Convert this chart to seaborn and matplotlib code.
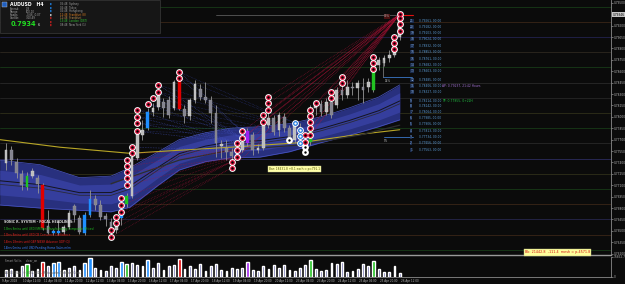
import numpy as np
import pandas as pd
import matplotlib
matplotlib.use("Agg")
import matplotlib.pyplot as plt
from matplotlib.patches import Rectangle
import seaborn as sns

sns.set_theme(style="dark")
plt.rcParams['font.family'] = ['DejaVu Sans']

# ---------------- data ----------------
opens = [0.7739, 0.7756, 0.7741, 0.7725, 0.7708, 0.7722, 0.7720, 0.7710, 0.7656, 0.7647,
         0.7650, 0.7648, 0.7655, 0.7683, 0.7667, 0.7647, 0.7671, 0.7692, 0.7684, 0.7670,
         0.7662, 0.7651, 0.7667, 0.7685, 0.7696, 0.7746, 0.7776, 0.7785, 0.7806, 0.7813,
         0.7819, 0.7822, 0.7812, 0.7848, 0.7810, 0.7801, 0.7822, 0.7837, 0.7826, 0.7822,
         0.7805, 0.7762, 0.7759, 0.7754, 0.7748, 0.7756, 0.7766, 0.7776, 0.7756, 0.7759,
         0.7789, 0.7798, 0.7783, 0.7800, 0.7785, 0.7770, 0.7787, 0.7770, 0.7767, 0.7812,
         0.7817, 0.7806, 0.7819, 0.7816, 0.7835, 0.7829, 0.7839, 0.7838, 0.7839, 0.7839,
         0.7835, 0.7868, 0.7871, 0.7877, 0.7881, 0.7905]
closes = [0.7756, 0.7743, 0.7726, 0.7710, 0.7722, 0.7729, 0.7712, 0.7654, 0.7647, 0.7650,
          0.7647, 0.7655, 0.7673, 0.7671, 0.7648, 0.7671, 0.7692, 0.7684, 0.7668, 0.7666,
          0.7648, 0.7662, 0.7671, 0.7696, 0.7747, 0.7779, 0.7783, 0.7806, 0.7812, 0.7831,
          0.7812, 0.7802, 0.7846, 0.7810, 0.7801, 0.7822, 0.7843, 0.7826, 0.7822, 0.7805,
          0.7766, 0.7764, 0.7754, 0.7748, 0.7756, 0.7767, 0.7781, 0.7756, 0.7759, 0.7789,
          0.7798, 0.7780, 0.7802, 0.7785, 0.7770, 0.7789, 0.7770, 0.7762, 0.7812, 0.7817,
          0.7806, 0.7819, 0.7802, 0.7835, 0.7829, 0.7839, 0.7838, 0.7845, 0.7835, 0.7846,
          0.7868, 0.7875, 0.7877, 0.7881, 0.7905, 0.7930]
highs = [0.7766, 0.7762, 0.7746, 0.7730, 0.7727, 0.7733, 0.7723, 0.7713, 0.7677, 0.7652,
         0.7664, 0.7658, 0.7677, 0.7685, 0.7671, 0.7675, 0.7704, 0.7697, 0.7691, 0.7673,
         0.7667, 0.7671, 0.7675, 0.7700, 0.7756, 0.7785, 0.7796, 0.7812, 0.7818, 0.7835,
         0.7825, 0.7827, 0.7848, 0.7859, 0.7816, 0.7825, 0.7848, 0.7843, 0.7846, 0.7827,
         0.7816, 0.7770, 0.7770, 0.7759, 0.7763, 0.7772, 0.7785, 0.7780, 0.7764, 0.7796,
         0.7806, 0.7802, 0.7806, 0.7805, 0.7789, 0.7793, 0.7792, 0.7776, 0.7816, 0.7822,
         0.7822, 0.7825, 0.7825, 0.7839, 0.7843, 0.7848, 0.7846, 0.7848, 0.7851, 0.7851,
         0.7872, 0.7879, 0.7881, 0.7888, 0.7908, 0.7934]
lows = [0.7730, 0.7737, 0.7720, 0.7704, 0.7704, 0.7720, 0.7700, 0.7651, 0.7646, 0.7645,
        0.7645, 0.7646, 0.7652, 0.7662, 0.7646, 0.7645, 0.7668, 0.7677, 0.7664, 0.7656,
        0.7643, 0.7647, 0.7658, 0.7681, 0.7693, 0.7743, 0.7770, 0.7783, 0.7801, 0.7809,
        0.7800, 0.7798, 0.7809, 0.7809, 0.7792, 0.7796, 0.7818, 0.7822, 0.7818, 0.7792,
        0.7747, 0.7746, 0.7743, 0.7743, 0.7746, 0.7754, 0.7762, 0.7750, 0.7752, 0.7756,
        0.7785, 0.7776, 0.7775, 0.7780, 0.7766, 0.7766, 0.7763, 0.7756, 0.7763, 0.7802,
        0.7801, 0.7802, 0.7798, 0.7812, 0.7822, 0.7825, 0.7829, 0.7822, 0.7818, 0.7833,
        0.7833, 0.7862, 0.7867, 0.7872, 0.7879, 0.7901]
volumes = [6000, 7000, 5000, 9000, 11000, 5000, 7000, 13000, 9000, 12000,
           13000, 6000, 8000, 9000, 6000, 12000, 16000, 8000, 6000, 5000,
           9000, 8000, 13000, 11000, 12000, 10000, 9000, 14000, 8000, 12000,
           6000, 9000, 10000, 15000, 7000, 9000, 7000, 11000, 5000, 9000,
           11000, 6000, 5000, 8000, 7000, 8000, 13000, 6000, 5000, 9000,
           7000, 10000, 8000, 10000, 6000, 5000, 8000, 10000, 14500, 7000,
           5000, 6000, 12000, 11000, 13000, 4000, 5000, 7000, 11000, 9000,
           13600, 7000, 4000, 4000, 9000, 3000]
signal_bars = [4, 7, 9, 10, 15, 16, 22, 23, 27, 33, 46, 58, 70]
signal_types = ['green', 'red', 'blue', 'blue', 'blue', 'blue', 'blue', 'green',
                'blue', 'red', 'purple', 'green', 'green']

date_tick_bars = [0, 4, 8, 12, 16, 20, 24, 28, 32, 36, 40, 44, 48, 52, 56, 60, 64, 68, 72, 76]
date_tick_labels = ["9 Apr 2018", "10 Apr 12:00", "11 Apr 04:00", "11 Apr 20:00",
                    "12 Apr 12:00", "13 Apr 04:00", "13 Apr 20:00", "16 Apr 12:00",
                    "17 Apr 04:00", "17 Apr 20:00", "18 Apr 12:00", "19 Apr 04:00",
                    "19 Apr 20:00", "20 Apr 12:00", "23 Apr 04:00", "23 Apr 20:00",
                    "24 Apr 12:00", "25 Apr 04:00", "25 Apr 20:00", "26 Apr 12:00"]

price_ticks = [0.7950, 0.7920, 0.7905, 0.7890, 0.7875, 0.7860, 0.7845, 0.7830,
               0.7815, 0.7800, 0.7785, 0.7770, 0.7755, 0.7740, 0.7725, 0.7710,
               0.7695, 0.7680, 0.7665, 0.7650, 0.7635, 0.7620]
current_price = 0.79346
vol_axis_top = 16852.7

level_prices = [0.7945, 0.7925, 0.7905, 0.7885, 0.7865, 0.7845, 0.7825, 0.7805, 0.7785,
                0.7765, 0.7745, 0.7725, 0.7705, 0.7685, 0.7665, 0.7645, 0.7625]

band_bars = [-1.2, 6.5, 14, 20, 23.6, 29, 33, 38, 42.7, 48.4, 54, 60, 65.5, 71, 75]
band_upper = [0.7743, 0.7737, 0.7720, 0.7722, 0.7733, 0.7754, 0.7770, 0.7779, 0.7785,
              0.7787, 0.7791, 0.7800, 0.7812, 0.7826, 0.7842]
band_lower = [0.7684, 0.7680, 0.7677, 0.7675, 0.7681, 0.7710, 0.7730, 0.7741, 0.7746,
              0.7747, 0.7754, 0.7766, 0.7776, 0.7787, 0.7796]
ma_bars = [-1.2, 10.3, 23.6, 33, 42.7, 56, 67.4, 75]
ma_yellow = [0.7770, 0.7760, 0.7752, 0.7756, 0.7760, 0.7766, 0.7777, 0.7783]
ma2_bars = [20, 33, 42.7, 56, 67.4, 75]
ma2_values = [0.7712, 0.7743, 0.7756, 0.7763, 0.7776, 0.7789]

circle_bars = [20, 20, 21, 21, 22, 22, 22, 23, 23, 23, 23, 23, 24, 24, 25, 25, 25, 25,
               27, 28, 29, 29, 33, 33, 43, 43, 44, 44, 44, 45, 45, 49, 49, 50, 50, 50,
               54, 55, 56, 56, 56, 57, 57, 57, 57, 58, 58, 58, 58, 58, 59, 62, 62, 64,
               64, 70, 70, 70, 74, 74, 74, 75, 75, 75, 75]
circle_prices = [0.7642, 0.7651, 0.7660, 0.7668, 0.7675, 0.7684, 0.7693, 0.7710, 0.7720,
                 0.7727, 0.7735, 0.7743, 0.7752, 0.7760, 0.7781, 0.7792, 0.7800, 0.7809,
                 0.7817, 0.7825, 0.7833, 0.7842, 0.7851, 0.7859, 0.7733, 0.7741, 0.7747,
                 0.7756, 0.7766, 0.7772, 0.7781, 0.7793, 0.7802, 0.7809, 0.7818, 0.7826,
                 0.7770, 0.7792, 0.7783, 0.7775, 0.7766, 0.7776, 0.7767, 0.7760, 0.7754,
                 0.7809, 0.7801, 0.7793, 0.7785, 0.7776, 0.7818, 0.7833, 0.7825, 0.7852,
                 0.7845, 0.7879, 0.7871, 0.7863, 0.7905, 0.7897, 0.7889, 0.7935, 0.7930,
                 0.7922, 0.7913]
circle_kinds = (['red'] * 36 + ['white', 'blue', 'blue', 'blue', 'blue', 'red', 'red',
                                'white', 'white'] + ['red'] * 20)

fib_ids = list(range(21, 0, -1))
fib_prices = [0.79261, 0.79182, 0.79103, 0.79024, 0.78932, 0.78853, 0.78761, 0.78682,
              0.78603, 0.78485, 0.78406, 0.78327, 0.78214, 0.78142, 0.78064, 0.77985,
              0.77906, 0.77813, 0.77734, 0.77656, 0.77563]

headlines = ["SONIC R. SYSTEM - FOCAL HEADLINES:",
             "13hrs 8mins until USD ISM/Non-Manufacturing Composite (Prices)",
             "13hrs 8mins until USD CB Consumer Confidence",
             "14hrs 18mins until GBP NIESR Advance GDP (Q)",
             "14hrs 0mins until USD Pending Home Sales m/m"]
session_labels = ["05:48  Sydney", "06:48  Tokyo", "06:48  Hongkong", "12:48  Frankfurt (8)",
                  "12:48  Frankfurt", "13:48  London (DST)", "08:48  New York (1)"]
info_names = ["Spread:", "Range:", "Swaps:", "Candle:"]
info_values = ["0.8", "100.10", "-0.66 -0.07", "3:10:49"]

# ---------------- styling ----------------
BG = '#0b0b0b'
W, H = 625, 284
sig_col = {'green': '#22c322', 'red': '#e00000', 'blue': '#1e8fff', 'purple': '#a020f0'}
level_colors = ['#183a18', '#3a2618', '#22224e', '#2e2820', '#183a18', '#2a2a2a', '#262626',
                '#30301a', '#183a18', '#282828', '#2c2c5e', '#30301a', '#183a18', '#3a2618',
                '#26264c', '#3a2618', '#183a18']

def frect(x0, y0, x1, y1):
    return [x0 / W, 1 - y1 / H, (x1 - x0) / W, (y1 - y0) / H]

fig = plt.figure(figsize=(6.25, 2.84), dpi=100, facecolor=BG)
ax = fig.add_axes(frect(0, 0, 611, 255))
axv = fig.add_axes(frect(0, 257, 611, 277))
for a in (ax, axv):
    a.set_facecolor(BG)
    a.grid(False)
    for s in a.spines.values():
        s.set_visible(False)
    a.spines['right'].set_visible(True)
    a.spines['right'].set_color('#8a8a8a')
    a.spines['right'].set_linewidth(0.6)
ax.spines['bottom'].set_visible(True)
ax.spines['bottom'].set_color('#9a9a9a')
ax.spines['bottom'].set_linewidth(1.0)
axv.spines['bottom'].set_visible(True)
axv.spines['bottom'].set_color('#8a8a8a')
axv.spines['bottom'].set_linewidth(0.6)

XMIN, XMAX = -1.143, 115.24
ax.set_xlim(XMIN, XMAX)
axv.set_xlim(XMIN, XMAX)
ax.set_ylim(0.76182, 0.79537)

df = pd.DataFrame(dict(bar=np.arange(len(closes)), open=opens, high=highs, low=lows,
                       close=closes, vol=volumes))
sig_map = dict(zip(signal_bars, signal_types))

# level lines
for p, c in zip(level_prices, level_colors):
    ax.axhline(p, color=c, lw=0.6, zorder=1)

# band
ax.fill_between(band_bars, band_lower, band_upper, color='#28307e', lw=0, zorder=2)
mid = (np.array(band_upper) + np.array(band_lower)) / 2
half = (np.array(band_upper) - np.array(band_lower)) / 2
ax.fill_between(band_bars, mid - half * 0.55, mid + half * 0.55, color='#3a44a8',
                alpha=0.75, lw=0, zorder=2)
ax.plot(band_bars, band_upper, color='#4a56c4', lw=0.5, zorder=2)
ax.plot(band_bars, band_lower, color='#4a56c4', lw=0.5, zorder=2)
ax.plot(band_bars, mid + half * 0.08, color='#14141e', lw=0.7, zorder=2)
ax.plot(band_bars, mid - half * 0.08, color='#2a2a38', lw=0.6, zorder=2)

# moving averages
sns.lineplot(x=ma_bars, y=ma_yellow, ax=ax, color='#b8a626', lw=0.8, sort=False,
             estimator=None, zorder=3)
sns.lineplot(x=ma2_bars, y=ma2_values, ax=ax, color='#2e2e2e', lw=0.9, sort=False,
             estimator=None, zorder=3)

# current price line
ax.plot([40, 75], [current_price - 0.00006] * 2, color='#5a5a5a', lw=0.6, zorder=3)
ax.plot([74.7, 77.5], [current_price - 0.00003] * 2, color='#e01010', lw=0.8, zorder=7)

# fans
circ = pd.DataFrame(dict(bar=circle_bars, price=circle_prices, kind=circle_kinds))
A = circ[circ.bar <= 33].sort_values('price').reset_index(drop=True)
B = circ[(circ.bar >= 43) & (circ.bar <= 45)].sort_values('price').reset_index(drop=True)
B2 = circ[(circ.bar >= 54) & (circ.bar <= 57)].sort_values('price').reset_index(drop=True)
dot = (0, (1, 1.6))
for i, r in A.iterrows():
    j = int(round(i * (len(B) - 1) / (len(A) - 1)))
    t = B.iloc[j]
    col = '#a8123a' if t.price > r.price else '#4656c8'
    ax.plot([r.bar, t.bar], [r.price, t.price], ls=dot, lw=0.45, color=col, alpha=0.8,
            zorder=3)
    if r.bar >= 25:
        k = int(round(i * (len(B2) - 1) / (len(A) - 1)))
        t2 = B2.iloc[k]
        ax.plot([r.bar, t2.bar], [r.price, t2.price], ls=dot, lw=0.4, color='#3c4cc0',
                alpha=0.7, zorder=3)
top = circ.loc[circ.price.idxmax()]
src = circ[(circ.bar >= 43) & (circ.bar <= 64) & (circ.kind == 'red')]
for _, r in src.iterrows():
    ax.plot([r.bar, top.bar], [r.price, top.price], ls=dot, lw=0.45, color='#b8123a',
            alpha=0.85, zorder=3)

# candles
for _, r in df.iterrows():
    b = int(r.bar)
    bull = r.close >= r.open
    if b in sig_map:
        body = sig_col[sig_map[b]]
        edge = body
    else:
        body = '#bdbdbd' if bull else '#84848f'
        edge = '#d4d4d4' if bull else '#95959f'
    ax.vlines(b, r.low, r.high, color='#969696', lw=0.6, zorder=4)
    h = max(abs(r.close - r.open), 0.00005)
    ax.bar(b, h, bottom=min(r.open, r.close), width=0.56, color=body, edgecolor=edge,
           lw=0.3, zorder=5)

# circles
red = circ[circ.kind == 'red']
blue = circ[circ.kind == 'blue']
white = circ[circ.kind == 'white']
sns.scatterplot(data=circ, x='bar', y='price', ax=ax, s=24, color='white', linewidth=0,
                zorder=8, legend=False)
sns.scatterplot(data=red, x='bar', y='price', ax=ax, s=12, color='#e0103c', linewidth=0,
                zorder=9, legend=False)
sns.scatterplot(data=blue, x='bar', y='price', ax=ax, s=12, color='#1e78e0', linewidth=0,
                zorder=9, legend=False)
sns.scatterplot(data=pd.concat([red, white]), x='bar', y='price', ax=ax, s=3, color='black',
                linewidth=0, zorder=10, legend=False)
sns.scatterplot(data=blue, x='bar', y='price', ax=ax, s=3, color='white', linewidth=0,
                zorder=10, legend=False)
ax.set_xlabel('')
ax.set_ylabel('')

# right price axis
ax.yaxis.tick_right()
ax.set_yticks(price_ticks)
ax.set_yticklabels([f"{v:.5f}" for v in price_ticks])
ax.tick_params(axis='y', labelsize=2.1, colors='#b4b4b4', length=1.2, width=0.4, pad=0.8)
ax.set_xticks([])
ax.text(1.003, current_price, f"{current_price:.5f}", transform=ax.get_yaxis_transform(),
        fontsize=2.1, color='black', va='center', ha='left', zorder=20, clip_on=False,
        bbox=dict(facecolor='#c8c8c8', edgecolor='none', pad=0.4))

# level list on the right
for n, p in zip(fib_ids, fib_prices):
    ax.text(77.0, p, f"{n}", fontsize=2.1, color='#8ab4e8', va='center', ha='left', zorder=12,
            bbox=dict(facecolor='#1a2a4a', edgecolor='none', pad=0.2))
    ax.text(78.7, p, f"{p:.5f}, 00:00", fontsize=2.1, color='#5b9bd5', va='center',
            ha='left', zorder=12)
ax.text(83.0, 0.78406, "AP: 0.79237, 21:42 Hours", fontsize=2.2, color='#a070d0',
        va='center', ha='left', zorder=12)
ax.text(83.0, 0.78206, "TP: 0.77955, 0+22H", fontsize=2.2, color='#20c040',
        va='center', ha='left', zorder=12)
ax.plot([71.8, 77.3], [0.7853, 0.7853], color='#3c78c8', lw=0.6, zorder=6)
ax.plot([71.8, 71.8], [0.7853, 0.7875], color='#8a8a8a', lw=0.5, zorder=6)
ax.plot([72.0, 77.5], [0.7774, 0.7774], color='#3c78c8', lw=0.6, zorder=6)
ax.text(72.0, 0.7932, "80%", fontsize=2.0, color='#b0b0b0', ha='left', va='center', zorder=12,
        bbox=dict(facecolor='#4a1010', edgecolor='none', pad=0.2))
ax.text(72.2, 0.7850, "14%", fontsize=2.0, color='#b0b0b0', ha='left', va='top', zorder=12)
ax.text(72.0, 0.7771, "0%", fontsize=2.0, color='#b0b0b0', ha='left', va='top', zorder=12)

# volume pane
vdf = df.copy()
vdf['sig'] = vdf.bar.map(sig_map)
norm = vdf[vdf.sig.isna()]
spec = vdf[vdf.sig.notna()]
axv.bar(norm.bar, norm.vol, width=0.3, color='#5e5ea6', zorder=3)
axv.bar(spec.bar, spec.vol, width=0.62, color=[sig_col[s] for s in spec.sig], zorder=3)
axv.set_ylim(0, vol_axis_top)
axv.yaxis.tick_right()
axv.set_yticks([0, vol_axis_top])
axv.set_yticklabels(["0", f"{vol_axis_top:.1f}"])
axv.tick_params(axis='y', labelsize=2.1, colors='#b4b4b4', length=1.2, width=0.4, pad=0.8)
axv.set_xticks(date_tick_bars)
axv.set_xticklabels([])
axv.tick_params(axis='x', length=1.2, width=0.4, colors='#8a8a8a')
for b, lab in zip(date_tick_bars, date_tick_labels):
    axv.text(b - 0.8, -0.08, lab, transform=axv.get_xaxis_transform(), fontsize=2.0,
             color='#b4b4b4', ha='left', va='top', clip_on=False)
axv.text(0.008, 0.93, "Smart Vol is     clear_on", transform=axv.transAxes, fontsize=2.0,
         color='#9a9a9a', ha='left', va='top')
axv.text(0.008, 0.22, "AUDUSD,H4  \u00a9 2001-2018, MetaQuotes Software Corp.",
         transform=axv.transAxes, fontsize=2.0, color='#5a5a5a', ha='left', va='center',
         zorder=5)

# info panel (top-left)
fig.patches.append(Rectangle((0, 1 - 33 / H), 160 / W, 33 / H, transform=fig.transFigure,
                             facecolor='#161616', edgecolor='#3a3a3a', lw=0.5))
fig.patches.append(Rectangle((2 / W, 1 - 7 / H), 5 / W, 5 / H, transform=fig.transFigure,
                             facecolor='#2060c0', edgecolor='#c0c0c0', lw=0.3))
fig.text(10 / W, 1 - 4.5 / H, "AUDUSD   H4", color='white', fontsize=3.3, weight='bold',
         va='center', ha='left')
for k, (nm, vv) in enumerate(zip(info_names, info_values)):
    yy = 9 + k * 2.9
    fig.text(10 / W, 1 - yy / H, nm, color='#a8a8a8', fontsize=1.9, va='center', ha='left')
    fig.text(26 / W, 1 - yy / H, vv, color='#a8a8a8', fontsize=1.9, va='center', ha='left')
fig.text(11 / W, 1 - 24 / H, "0.7934", color='#22dd22', fontsize=4.8, weight='bold',
         va='center', ha='left')
fig.text(38 / W, 1 - 24.5 / H, "6", color='#e0e0e0', fontsize=2.6, va='center', ha='left')
glyph_cols = ['#1e8fff', '#1e8fff', '#1e8fff', '#f0f0f0', '#e02020', '#e02020', '#e02020']
sess_cols = ['#a0a0a0', '#a0a0a0', '#a0a0a0', '#e08020', '#c09050', '#30c030', '#a0a0a0']
for k, (lab, gc, sc) in enumerate(zip(session_labels, glyph_cols, sess_cols)):
    yy = 4 + k * 3.5
    fig.text(50 / W, 1 - yy / H, "\u25ae", color=gc, fontsize=2.2, va='center', ha='left')
    fig.text(60 / W, 1 - yy / H, lab, color=sc, fontsize=1.9, va='center', ha='left')

# headlines (bottom-left)
hl_cols = ['#d8d8d8', '#20c020', '#e02020', '#e02020', '#3a80ff']
for k, (t, c) in enumerate(zip(headlines, hl_cols)):
    fig.text(4 / W, 1 - (222 + k * 6.6) / H, t, color=c, fontsize=2.3 if k == 0 else 1.95,
             weight='bold' if k == 0 else 'normal', va='center', ha='left')

# yellow info boxes
fig.text(269 / W, 1 - 169 / H, "Bar: 18431.8 +8.1 each = p=791.1", color='#505000',
         fontsize=2.1, va='center', ha='left',
         bbox=dict(facecolor='#ffffa8', edgecolor='#d0d090', pad=0.6, lw=0.3))
fig.text(525 / W, 1 - 252.5 / H, "Bb: 21442.8  -111.4  mesh = p-4571.8", color='#d01010',
         fontsize=2.4, va='center', ha='left',
         bbox=dict(facecolor='#ffff9c', edgecolor='#c0c080', pad=0.8, lw=0.3))

fig.savefig("out.png", dpi=100, facecolor=BG)
